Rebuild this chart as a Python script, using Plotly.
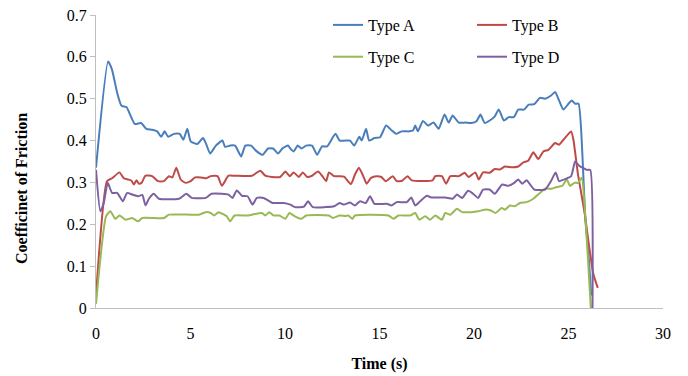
import plotly.graph_objects as go

# ---- data (time in s, coefficient of friction) ----
t_A = [0, 0.64, 0.85, 1.12, 1.35, 1.61, 2.05, 2.39, 2.66, 2.97, 3.24, 3.45, 3.63, 3.82, 4.12, 4.43, 4.62, 4.83, 5.01, 5.36, 5.66, 5.81, 6.04, 6.34, 6.69, 6.83, 7.1, 7.36, 7.68, 7.9, 8.21, 8.46, 8.82, 9.1, 9.37, 9.63, 9.88, 10.16, 10.28, 10.46, 10.67, 10.87, 11.12, 11.43, 11.7, 11.96, 12.23, 12.67, 12.89, 13.2, 13.44, 13.66, 13.93, 14.06, 14.29, 14.45, 14.73, 15.03, 15.35, 15.65, 15.88, 16.18, 16.57, 16.77, 16.89, 17.03, 17.3, 17.56, 17.86, 18.13, 18.44, 18.66, 18.87, 19.19, 19.54, 19.86, 20.13, 20.34, 20.57, 20.83, 21.1, 21.31, 21.58, 21.84, 22.11, 22.34, 22.64, 22.9, 23.19, 23.49, 23.76, 24.06, 24.29, 24.5, 24.73, 25.0, 25.17, 25.35, 25.53, 25.74, 25.88, 26.09, 26.2]
cof_A = [0.335, 0.589, 0.569, 0.514, 0.483, 0.480, 0.44, 0.442, 0.428, 0.426, 0.422, 0.409, 0.422, 0.409, 0.416, 0.416, 0.402, 0.428, 0.398, 0.392, 0.406, 0.394, 0.369, 0.388, 0.40, 0.385, 0.388, 0.388, 0.362, 0.388, 0.388, 0.376, 0.366, 0.381, 0.381, 0.369, 0.382, 0.388, 0.381, 0.374, 0.388, 0.381, 0.388, 0.388, 0.366, 0.386, 0.386, 0.416, 0.40, 0.40, 0.40, 0.388, 0.409, 0.40, 0.428, 0.40, 0.406, 0.408, 0.436, 0.424, 0.416, 0.422, 0.422, 0.424, 0.436, 0.422, 0.447, 0.436, 0.443, 0.428, 0.462, 0.443, 0.46, 0.443, 0.443, 0.442, 0.446, 0.462, 0.442, 0.448, 0.458, 0.474, 0.448, 0.456, 0.456, 0.474, 0.474, 0.486, 0.487, 0.502, 0.50, 0.507, 0.516, 0.496, 0.474, 0.488, 0.496, 0.488, 0.488, 0.362, 0.219, 0.108, 0.03]

t_B = [0, 0.58, 0.85, 1.24, 1.47, 1.7, 1.88, 2.0, 2.14, 2.27, 2.41, 2.62, 2.97, 3.29, 3.59, 3.86, 4.04, 4.25, 4.48, 4.74, 5.01, 5.24, 5.54, 5.84, 6.07, 6.43, 6.66, 7.01, 7.36, 8.25, 8.69, 8.96, 9.31, 9.75, 10.02, 10.25, 10.46, 10.73, 10.94, 11.17, 11.43, 11.75, 11.96, 12.18, 12.32, 12.59, 12.89, 13.12, 13.49, 13.7, 13.91, 14.14, 14.32, 14.55, 14.85, 15.1, 15.33, 15.7, 15.91, 16.2, 16.48, 16.71, 17.81, 17.95, 18.3, 18.52, 18.75, 19.19, 19.51, 19.71, 20.07, 20.25, 20.48, 20.83, 21.1, 21.37, 21.63, 22.02, 22.34, 22.61, 22.87, 23.14, 23.4, 23.67, 23.94, 24.29, 24.5, 24.73, 25.0, 25.14, 25.26, 25.49, 25.67, 25.88, 26.09, 26.32, 26.55]
cof_B = [0.03, 0.303, 0.31, 0.324, 0.31, 0.307, 0.304, 0.295, 0.305, 0.297, 0.299, 0.316, 0.315, 0.303, 0.303, 0.315, 0.312, 0.335, 0.307, 0.299, 0.303, 0.312, 0.312, 0.31, 0.315, 0.315, 0.292, 0.316, 0.316, 0.316, 0.328, 0.316, 0.313, 0.313, 0.326, 0.315, 0.324, 0.313, 0.324, 0.313, 0.316, 0.326, 0.316, 0.303, 0.324, 0.315, 0.315, 0.314, 0.296, 0.319, 0.335, 0.315, 0.297, 0.311, 0.315, 0.313, 0.303, 0.315, 0.303, 0.304, 0.315, 0.305, 0.305, 0.315, 0.315, 0.297, 0.315, 0.315, 0.323, 0.313, 0.324, 0.307, 0.324, 0.323, 0.332, 0.331, 0.338, 0.336, 0.338, 0.348, 0.352, 0.372, 0.356, 0.374, 0.378, 0.394, 0.39, 0.402, 0.416, 0.422, 0.402, 0.323, 0.275, 0.219, 0.147, 0.08, 0.048]

t_C = [0, 0.53, 0.76, 1.02, 1.24, 1.56, 1.91, 2.23, 2.44, 3.6, 3.86, 5.45, 5.81, 6.07, 6.25, 6.48, 6.92, 7.1, 7.33, 8.0, 8.25, 8.78, 8.95, 9.17, 9.4, 9.7, 10.02, 10.23, 10.52, 10.87, 11.12, 12.32, 12.53, 12.89, 13.2, 13.35, 13.56, 13.7, 15.47, 15.74, 16.0, 16.62, 16.89, 17.1, 17.42, 17.68, 17.95, 18.3, 18.48, 18.75, 19.1, 19.37, 19.6, 19.86, 20.22, 20.57, 20.89, 21.14, 21.46, 21.65, 21.9, 22.15, 22.43, 22.78, 23.14, 23.49, 23.76, 24.11, 24.38, 24.68, 24.91, 25.08, 25.31, 25.5, 25.7, 25.88, 26.18]
cof_C = [0.01, 0.219, 0.231, 0.213, 0.221, 0.211, 0.215, 0.207, 0.215, 0.215, 0.223, 0.223, 0.229, 0.227, 0.221, 0.229, 0.219, 0.207, 0.221, 0.221, 0.223, 0.227, 0.221, 0.229, 0.221, 0.221, 0.213, 0.227, 0.219, 0.213, 0.221, 0.221, 0.215, 0.221, 0.22, 0.221, 0.213, 0.221, 0.221, 0.213, 0.221, 0.221, 0.227, 0.211, 0.219, 0.211, 0.221, 0.211, 0.227, 0.223, 0.237, 0.229, 0.229, 0.229, 0.231, 0.235, 0.233, 0.227, 0.239, 0.235, 0.245, 0.243, 0.251, 0.253, 0.261, 0.275, 0.285, 0.285, 0.289, 0.292, 0.307, 0.292, 0.299, 0.299, 0.311, 0.227, 0.0]

t_D = [0, 0.23, 0.41, 0.62, 0.85, 1.12, 1.42, 1.65, 1.91, 2.23, 2.45, 2.62, 2.8, 3.06, 3.33, 4.39, 4.78, 5.06, 5.81, 6.11, 6.66, 7.01, 7.22, 7.45, 7.72, 8.02, 8.28, 8.51, 8.87, 9.35, 9.93, 10.28, 10.52, 11.0, 11.22, 11.47, 12.14, 12.6, 12.89, 13.12, 13.44, 13.7, 13.97, 14.27, 14.5, 14.73, 15.38, 15.65, 15.91, 16.45, 16.68, 16.89, 17.15, 17.51, 17.74, 18.48, 18.87, 19.1, 19.37, 19.69, 19.95, 20.22, 20.48, 20.83, 21.1, 21.49, 21.81, 22.13, 22.34, 22.55, 22.78, 23.19, 23.76, 24.07, 24.32, 24.5, 24.82, 25.14, 25.35, 25.56, 25.97, 26.15, 26.27]
cof_D = [0.33, 0.231, 0.251, 0.299, 0.275, 0.275, 0.255, 0.275, 0.271, 0.267, 0.27, 0.245, 0.261, 0.273, 0.261, 0.261, 0.273, 0.263, 0.263, 0.273, 0.273, 0.271, 0.263, 0.281, 0.268, 0.267, 0.247, 0.263, 0.263, 0.251, 0.251, 0.247, 0.241, 0.242, 0.255, 0.241, 0.241, 0.243, 0.251, 0.247, 0.252, 0.245, 0.255, 0.251, 0.267, 0.249, 0.249, 0.245, 0.253, 0.253, 0.264, 0.245, 0.255, 0.268, 0.264, 0.264, 0.261, 0.271, 0.263, 0.28, 0.273, 0.263, 0.283, 0.283, 0.273, 0.295, 0.292, 0.299, 0.307, 0.297, 0.305, 0.283, 0.283, 0.303, 0.324, 0.303, 0.308, 0.315, 0.35, 0.34, 0.33, 0.33, 0.0]

series_names = ["Type A", "Type B", "Type C", "Type D"]
series_colors = ["#4A7EBB", "#BE4B48", "#98B954", "#7D60A0"]

y_tickvals = [0, 0.1, 0.2, 0.3, 0.4, 0.5, 0.6, 0.7]
y_ticktext = ["0", "0.1", "0.2", "0.3", "0.4", "0.5", "0.6", "0.7"]
x_tickvals = [0, 5, 10, 15, 20, 25, 30]

assert len(t_A) == len(cof_A)
assert len(t_B) == len(cof_B)
assert len(t_C) == len(cof_C)
assert len(t_D) == len(cof_D)

FONT = "Liberation Serif, Times New Roman, serif"

# The page body has an 8px default margin, so the figure is drawn offset by (8, 8).
OFF = 8
W, H = 688, 376
# target plot area on screen: x 96..663, y 15..308
L, T = 96 - OFF, 15 - OFF
R = W - (663 - OFF)
B = H - (308 - OFF)
PW, PH = W - L - R, H - T - B


def px_to_paper(px, py):
    """convert on-screen pixel position to paper coordinates"""
    return (px - OFF - L) / PW, (H - B - (py - OFF)) / PH


data = [(t_A, cof_A), (t_B, cof_B), (t_C, cof_C), (t_D, cof_D)]
legend_of = ["legend", "legend2", "legend", "legend2"]

fig = go.Figure()
for (tx, vy), name, col, lg in zip(data, series_names, series_colors, legend_of):
    fig.add_trace(go.Scatter(
        x=tx, y=vy, name=name, mode="lines",
        line=dict(color=col, width=2, shape="spline", smoothing=0.5),
        legend=lg, legendgroup=name,
    ))

legend_common = dict(
    xanchor="left", yanchor="top",
    orientation="v", font=dict(family=FONT, size=16, color="#000000"),
    bgcolor="rgba(0,0,0,0)", tracegroupgap=8, itemwidth=30,
)
l1x, l1y = px_to_paper(328, 8)
l2x, l2y = px_to_paper(472, 8)
tx_, ty_ = px_to_paper(21, 189)

fig.update_layout(
    width=W, height=H,
    margin=dict(l=L, r=R, t=T, b=B, autoexpand=False),
    paper_bgcolor="white", plot_bgcolor="white",
    font=dict(family=FONT, size=16, color="#000000"),
    showlegend=True,
    legend=dict(x=l1x, y=l1y, **legend_common),
    legend2=dict(x=l2x, y=l2y, **legend_common),
    xaxis=dict(
        range=[0, 30], tickmode="array", tickvals=x_tickvals,
        showgrid=False, zeroline=False,
        showline=True, linecolor="#BFBFBF", linewidth=1, ticks="",
        tickfont=dict(family=FONT, size=16), ticklabelstandoff=11,
        ticklabeloverflow="allow",
        title=dict(text="<b>Time (s)</b>", font=dict(family=FONT, size=16), standoff=16),
    ),
    yaxis=dict(
        range=[0, 0.7], tickmode="array", tickvals=y_tickvals, ticktext=y_ticktext,
        showgrid=False, zeroline=False,
        showline=True, linecolor="#BFBFBF", linewidth=1,
        ticks="outside", ticklen=5, tickcolor="#BFBFBF",
        tickfont=dict(family=FONT, size=16), ticklabeloverflow="allow",
    ),
    annotations=[dict(
        text="<b>Coefficinet of Friction</b>", textangle=-90,
        xref="paper", yref="paper", x=tx_, y=ty_,
        xanchor="center", yanchor="middle", showarrow=False,
        font=dict(family=FONT, size=16, color="#000000"),
    )],
)

fig.write_html("out.html")
